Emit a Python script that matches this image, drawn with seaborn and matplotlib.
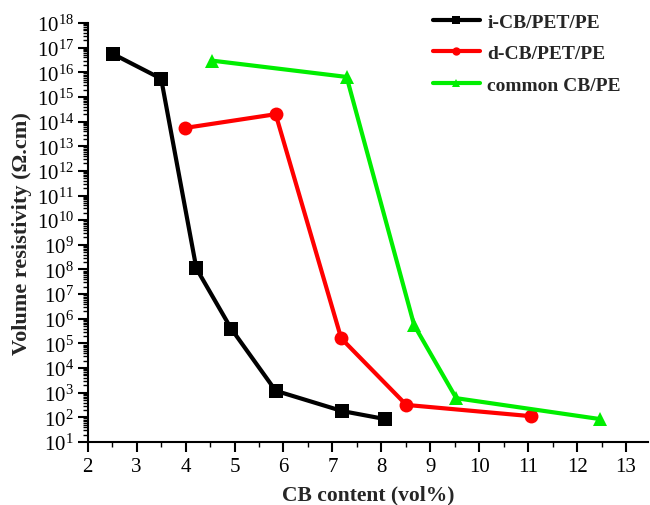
import seaborn as sns
import matplotlib.pyplot as plt
import matplotlib.ticker as mticker
import pandas as pd

sns.set_style("ticks")
plt.rcParams['font.family'] = ['Liberation Serif', 'DejaVu Serif']
plt.rcParams['mathtext.fontset'] = 'custom'
plt.rcParams['mathtext.rm'] = 'Liberation Serif'

series = ['i-CB/PET/PE', 'd-CB/PET/PE', 'common CB/PE']
colors = ['black', 'red', '#00ee00']
markers = ['s', 'o', '^']

i_x = [2.52, 3.5, 4.22, 4.93, 5.84, 7.2, 8.08]
i_y = [5.5e16, 5.5e15, 1.1e8, 4e5, 1.2e3, 1.8e2, 85]

d_x = [3.98, 5.84, 7.18, 8.51, 11.05]
d_y = [5.5e13, 2e14, 1.6e5, 3.2e2, 112]

c_x = [4.53, 7.29, 8.67, 9.53, 12.47]
c_y = [3e16, 6.5e15, 5.5e5, 6e2, 85]

frames = []
for name, xs, ys in zip(series, [i_x, d_x, c_x], [i_y, d_y, c_y]):
    frames.append(pd.DataFrame({'cb': xs, 'rho': ys, 'sample': name}))
data = pd.concat(frames, ignore_index=True)

fig = plt.figure(figsize=(6.5, 5.06), dpi=100)
ax = fig.add_axes([0.135, 0.1245, 0.862, 0.828])

for name, col, mk in zip(series, colors, markers):
    sub = data[data['sample'] == name]
    sns.lineplot(x='cb', y='rho', data=sub, ax=ax, color=col, marker=mk,
                 markersize=10, markeredgewidth=0, linewidth=3, label=name, sort=False)

ax.set_yscale('log')
ax.set_ylim(10, 1e18)
ax.set_xlim(2, 13.45)
ax.set_xticks(range(2, 14))
ax.set_xticks([x + 0.5 for x in range(2, 13)], minor=True)
ax.set_yticks([10.0 ** k for k in range(1, 19)])
ax.yaxis.set_minor_locator(mticker.LogLocator(base=10, subs=range(2, 10), numticks=100))
ax.yaxis.set_minor_formatter(mticker.NullFormatter())

sns.despine(ax=ax)
for s in ['left', 'bottom']:
    ax.spines[s].set_linewidth(1.5)
    ax.spines[s].set_color('black')
ax.tick_params(which='major', direction='out', length=7, width=1.5, labelsize=15, colors='black')
ax.tick_params(which='minor', direction='out', length=3.5, width=1.0, colors='black')
ax.tick_params(axis='x', pad=4)
ax.tick_params(axis='y', pad=3)

ax.set_xlabel('CB content (vol%)', fontsize=15.5, fontweight='bold', labelpad=6)
ax.set_ylabel('Volume resistivity (Ω.cm)', fontsize=16, fontweight='bold', labelpad=3)

leg = ax.legend(loc='upper left', bbox_to_anchor=(433 / 650, 1 - 14 / 506),
                bbox_transform=fig.transFigure, frameon=False, borderpad=0, borderaxespad=0,
                prop={'weight': 'bold', 'size': 14}, handlelength=2.4, markerscale=0.6,
                labelspacing=0.72, handletextpad=0.4)

plt.savefig('out.png', dpi=100)
